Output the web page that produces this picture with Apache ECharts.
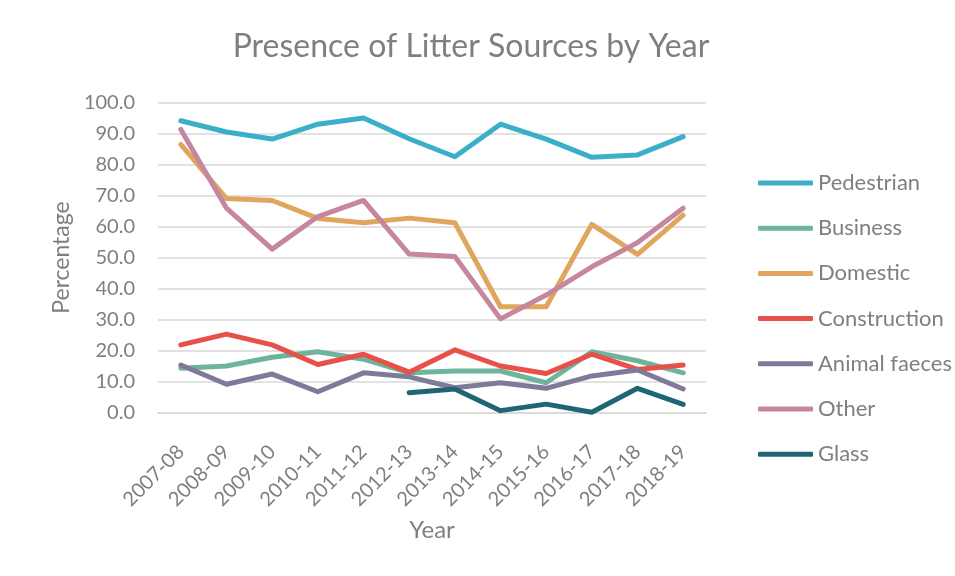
<!DOCTYPE html>
<html><head><meta charset="utf-8">
<script src="https://cdn.jsdelivr.net/npm/echarts@6/dist/echarts.min.js"></script>
<style>html,body{margin:0;padding:0;background:#fff}#c{width:955px;height:576px}</style>
</head><body><div id="c"></div>
<script>
const years = ['2007-08','2008-09','2009-10','2010-11','2011-12','2012-13','2013-14','2014-15','2015-16','2016-17','2017-18','2018-19'];
const pedestrian = [94.1, 90.5, 88.2, 93.0, 95.0, 88.3, 82.5, 93.0, 88.2, 82.3, 83.1, 89.0];
const business = [14.3, 15.0, 17.8, 19.6, 17.2, 12.8, 13.4, 13.4, 9.6, 19.6, 16.7, 12.8];
const domestic = [86.5, 69.0, 68.4, 62.6, 61.2, 62.7, 61.2, 34.1, 34.1, 60.7, 51.0, 63.7];
const construction = [21.8, 25.3, 21.8, 15.5, 18.8, 13.0, 20.2, 15.0, 12.6, 18.8, 13.9, 15.3];
const animalFaeces = [15.3, 9.1, 12.4, 6.7, 12.8, 11.5, 8.0, 9.6, 7.8, 11.8, 13.7, 7.6];
const other = [91.3, 65.9, 52.7, 63.2, 68.4, 51.1, 50.3, 30.2, 37.9, 47.0, 54.8, 65.9];
const glass = [null, null, null, null, null, 6.4, 7.6, 0.6, 2.7, 0.1, 7.8, 2.6];

const names = ['Pedestrian','Business','Domestic','Construction','Animal faeces','Other','Glass'];
const values = [pedestrian, business, domestic, construction, animalFaeces, other, glass];
const colors = ['#3CAFC8','#6DB49A','#E0A65E','#E8504A','#7F7A99','#C6869F','#1F6675'];
const FONT = 'Lato';
const TXT = '#7f7f7f';

const chart = echarts.init(document.getElementById('c'));
chart.setOption({
  animation: false,
  textStyle: {fontFamily: FONT},
  title: {text: 'Presence of Litter Sources by Year', left: 466, top: 26, textAlign: 'center',
    textStyle: {fontFamily: FONT, fontSize: 32, fontWeight: 'normal', color: TXT}},
  legend: {orient: 'vertical', left: 753, top: 167, itemGap: 23.2, itemWidth: 55, itemHeight: 5, icon: 'roundRect',
    data: names, textStyle: {fontFamily: FONT, fontSize: 22, color: TXT}},
  grid: {left: 158, right: 249, top: 102.5, bottom: 163.5},
  xAxis: {type: 'category', data: years, boundaryGap: true,
    name: 'Year', nameLocation: 'middle', nameGap: 106, nameTextStyle: {fontFamily: FONT, fontSize: 24, color: TXT},
    axisLine: {lineStyle: {color: '#d9d9d9', width: 1.5}}, axisTick: {show: false},
    axisLabel: {rotate: 45, fontFamily: FONT, fontSize: 20, color: TXT, margin: 36, interval: 0}},
  yAxis: {type: 'value', min: 0, max: 100, interval: 10,
    name: 'Percentage', nameLocation: 'middle', nameGap: 84, nameTextStyle: {fontFamily: FONT, fontSize: 23, color: TXT},
    axisLine: {show: false}, axisTick: {show: false},
    splitLine: {lineStyle: {color: '#d9d9d9', width: 1.5}},
    axisLabel: {fontFamily: FONT, fontSize: 20, color: TXT, margin: 23, formatter: v => v.toFixed(1)}},
  series: names.map((n, i) => ({
    name: n, type: 'line', data: values[i], symbol: 'none', color: colors[i],
    lineStyle: {width: 5, color: colors[i], cap: 'round', join: 'round'}
  }))
});
</script></body></html>
